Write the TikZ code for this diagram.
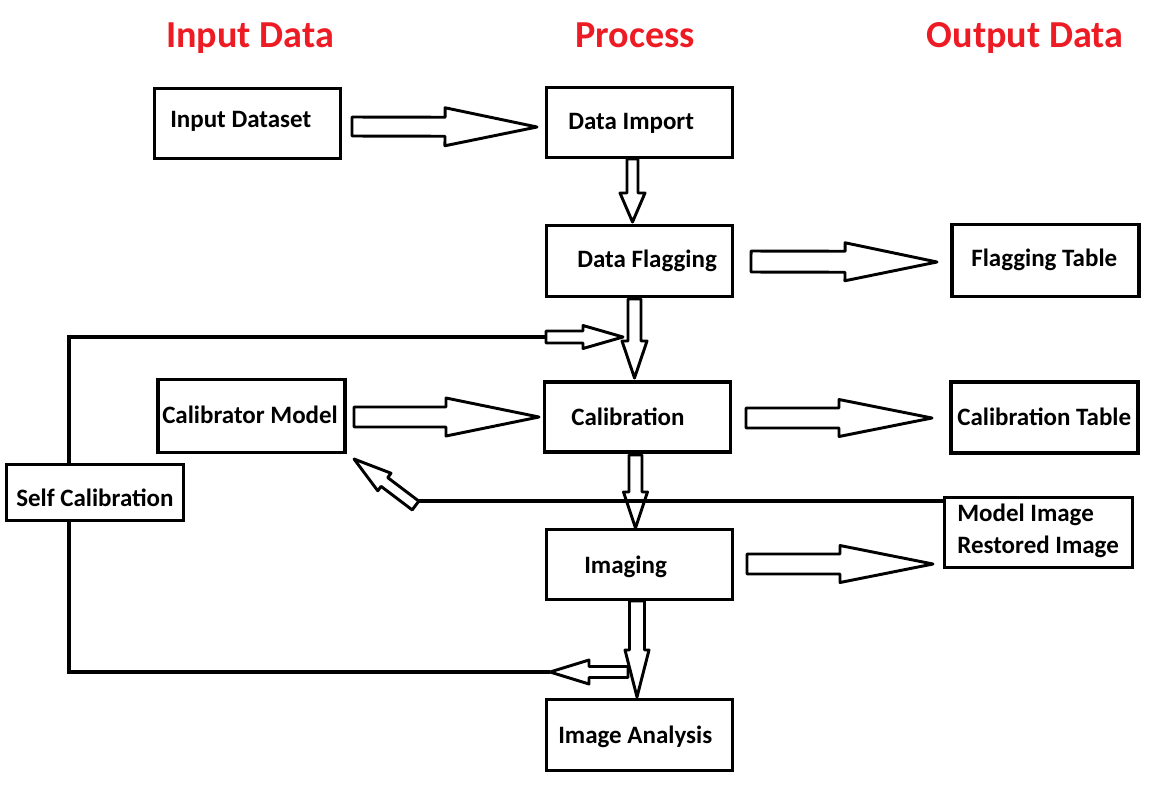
\documentclass[tikz,border=0pt]{standalone}
\usepackage{fontspec}
\setmainfont{Carlito}
\usetikzlibrary{calc}
\definecolor{titlered}{RGB}{237,28,36}
\tikzset{
  box/.style={draw, line width=2.7pt, inner sep=0pt, outer sep=0pt},
  lbl/.style={inner sep=0pt, anchor=base west, font=\fontsize{18.75pt}{22pt}\selectfont\bfseries},
  ttl/.style={inner sep=0pt, anchor=base, text=titlered, font=\fontsize{28.6pt}{32pt}\selectfont\bfseries},
  barrowst/.style={draw, fill=white, line width=2.2pt, line join=round},
  fline/.style={draw, line width=2.3pt}
}
\newcommand\barrow[5]{%
  \path[barrowst] let \p1=(#1), \p2=(#2),
     \n{a}={atan2(\y2-\y1,\x2-\x1)},
     \n{l}={veclen(\x2-\x1,\y2-\y1)},
     \n{s}={#3*0.75pt}, \n{h}={#4*0.75pt}, \n{b}={\n{l}-#5*0.75pt}
   in ($(\p1)+({\n{a}+90}:\n{s})$)
   -- ($(\p1)+(\n{a}:\n{b})+({\n{a}+90}:\n{s})$)
   -- ($(\p1)+(\n{a}:\n{b})+({\n{a}+90}:\n{h})$)
   -- (\p2)
   -- ($(\p1)+(\n{a}:\n{b})+({\n{a}-90}:\n{h})$)
   -- ($(\p1)+(\n{a}:\n{b})+({\n{a}-90}:\n{s})$)
   -- ($(\p1)+({\n{a}-90}:\n{s})$) -- cycle;}
\begin{document}
\begin{tikzpicture}[x=0.75pt,y=-0.75pt]
\useasboundingbox (0,0) rectangle (1176,786);

% titles
\node[ttl] (t1) at (250,47) {Input Data};
\node[ttl] (t2) at (635,47) {Process};
\node[ttl] (t3) at (1025,47) {Output Data};

% boxes
\node[box, minimum width=139.5pt, minimum height=52.5pt] (indata)   at (247.5,123.5) {};
\node[box, minimum width=139.5pt, minimum height=52.5pt] (import)   at (639.5,122.5) {};
\node[box, minimum width=139.5pt, minimum height=53.25pt] (flag)    at (639.5,261) {};
\node[box, minimum width=140.25pt, minimum height=54pt] (ftable)    at (1045.5,260.5) {};
\node[box, minimum width=140.25pt, minimum height=54.75pt] (calmodel) at (251.5,416) {};
\node[box, minimum width=139.5pt, minimum height=52.5pt] (calib)    at (637.5,417) {};
\node[box, minimum width=140.25pt, minimum height=53.25pt] (ctable) at (1044.5,417.5) {};
\node[box, minimum width=132.75pt, minimum height=42pt] (selfcal)   at (95,492.5) {};
\node[box, minimum width=141pt, minimum height=52.5pt] (model)      at (1038.5,532.5) {};
\node[box, minimum width=139.5pt, minimum height=52.5pt] (imaging)  at (639.5,564.5) {};
\node[box, minimum width=139.5pt, minimum height=53.25pt] (analysis) at (639.5,735) {};

% labels
\node[lbl] (indataT)   at (170,127) {Input Dataset};
\node[lbl] (importT)   at (568,129) {Data Import};
\node[lbl] (flagT)     at (577,267.5) {Data Flagging};
\node[lbl] (ftableT)   at (971,266) {Flagging Table};
\node[lbl] (calmodelT) at (162,423) {Calibrator Model};
\node[lbl] (calibT)    at (571,425) {Calibration};
\node[lbl] (ctableT)   at (957,425) {Calibration Table};
\node[lbl] (selfcalT)  at (16,506.5) {Self Calibration};
\node[lbl] (modelT1)   at (957,521.5) {Model Image};
\node[lbl] (modelT2)   at (957,553) {Restored Image};
\node[lbl] (imagingT)  at (584,573) {Imaging};
\node[lbl] (analysisT) at (558,743) {Image Analysis};

% coordinates for arrows
\coordinate (a1s) at ($(indata.east)+(11.5,3)$);
\coordinate (a1t) at ($(import.west)+(-9.5,4.5)$);
\coordinate (a2s) at ($(import.south)+(-7,1.5)$);
\coordinate (a2t) at ($(flag.north)+(-7,-3.5)$);
\coordinate (a3s) at ($(flag.east)+(18.5,0.5)$);
\coordinate (a3t) at ($(ftable.west)+(-15,1.5)$);
\coordinate (a4s) at ($(flag.south)+(-5,2.5)$);
\coordinate (a4t) at ($(calib.north)+(-3,-4)$);
\coordinate (fbA) at ($(calib.north west)+(1.5,-45)$);
\coordinate (fbAt) at ($(fbA)+(77,0)$);
\coordinate (a6s) at ($(calmodel.east)+(9,1)$);
\coordinate (a6t) at ($(calib.west)+(-5.5,0)$);
\coordinate (a7s) at ($(calib.east)+(15.5,1)$);
\coordinate (a7t) at ($(ctable.west)+(-19,0.5)$);
\coordinate (a8s) at ($(calib.south)+(-2,3)$);
\coordinate (a8t) at ($(imaging.north)+(-4,-1.5)$);
\coordinate (dline) at ($(calmodel.south east)+(74,48.5)$);
\coordinate (dts) at ($(dline)+(-3.5,4.5)$);
\coordinate (dtt) at ($(calmodel.south east)+(9,6.5)$);
\coordinate (a10s) at ($(imaging.east)+(14.5,-0.5)$);
\coordinate (a10t) at ($(model.west)+(-11.5,31.5)$);
\coordinate (a11s) at ($(imaging.south)+(-2.5,1.5)$);
\coordinate (a11t) at ($(analysis.north)+(-2.5,-2.5)$);
\coordinate (fbBt) at ($(analysis.north west)+(3.5,-27.5)$);
\coordinate (fbBs) at ($(fbBt)+(78,0)$);

% feedback lines
\draw[fline] ($(selfcal.north)+(-26,0)$) |- (fbA);
\draw[fline] ($(selfcal.south)+(-26,0)$) |- (fbBt);

% block arrows
\barrow{a1s}{a1t}{9.5}{19}{92}
\barrow{a2s}{a2t}{5.5}{12.5}{29}
\barrow{a3s}{a3t}{10.5}{19}{92}
\barrow{a6s}{a6t}{10}{19}{93}
\barrow{a7s}{a7t}{10}{18.5}{93}
\barrow{a10s}{a10t}{10}{18.5}{93}
\barrow{dts}{dtt}{5.5}{11}{38}
\barrow{a4s}{a4t}{6.5}{12.5}{37}
\barrow{fbA}{fbAt}{6}{11.5}{40}
\barrow{a8s}{a8t}{6.5}{12}{36}
\barrow{a11s}{a11t}{7.5}{12}{47}
\barrow{fbBs}{fbBt}{5.5}{12}{39}

% model image feedback line (drawn over the down arrow)
\draw[fline] (dline) -- (dline -| model.west);
\end{tikzpicture}
\end{document}
